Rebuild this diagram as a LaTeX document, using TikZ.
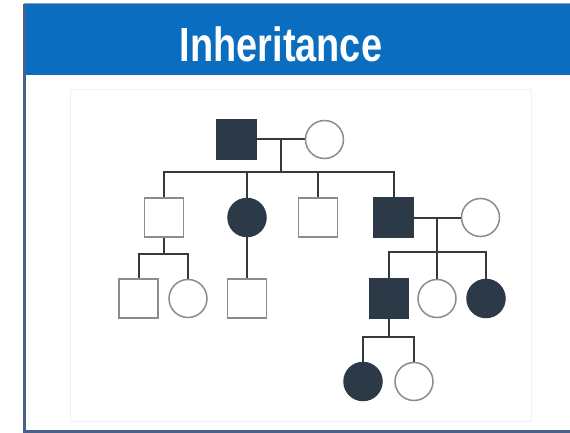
\documentclass[tikz,border=0pt]{standalone}
\usepackage{fontspec}
\usepackage{graphicx}
\setmainfont{Liberation Sans}
\definecolor{headblue}{HTML}{0A6DBF}
\definecolor{framecol}{HTML}{46618C}
\definecolor{affected}{HTML}{2C3A48}
\definecolor{linecol}{HTML}{333A40}
\definecolor{opencol}{HTML}{8C8C8C}
\tikzset{
  male/.style={rectangle, minimum size=39pt, inner sep=0pt, draw=opencol, line width=1.5pt, fill=white},
  female/.style={circle, minimum size=38pt, inner sep=0pt, draw=opencol, line width=1.5pt, fill=white},
  aff/.style={fill=affected, draw=affected},
  link/.style={draw=linecol, line width=2pt},
}
\begin{document}
\begin{tikzpicture}[x=1pt,y=-1pt]
\useasboundingbox (0,0) rectangle (570,433);
% frame and header band
\fill[white] (0,0) rectangle (570,433);
\fill[headblue] (24,4) rectangle (572,75);
\draw[framecol, line width=3pt] (24.5,4) -- (24.5,431) -- (575,431);
\draw[framecol!60, line width=1pt] (24,3.5) -- (575,3.5);
\node[text=white, font=\bfseries\fontsize{48}{48}\selectfont, anchor=base] (title) at (281,61.5) {\scalebox{0.79}[1]{Inheritance}};
% faint inner panel
\draw[black!6, line width=0.8pt] (70,89) rectangle (531,421);

% generation I
\node[male, aff] (m1) at (236.5,139.5) {};
\node[female] (f1) at (324.5,139.5) {};
% generation II
\node[male] (a2) at (164,217.5) {};
\node[female, aff] (b2) at (247,217.5) {};
\node[male] (c2) at (318,217.5) {};
\node[male, aff] (d2) at (393.5,217.5) {};
\node[female] (e2) at (480.5,217.5) {};
% generation III
\node[male] (a3) at (138.5,298.5) {};
\node[female] (b3) at (188,298.5) {};
\node[male] (c3) at (247,298.5) {};
\node[male, aff] (d3) at (389,298.5) {};
\node[female] (e3) at (437,298.5) {};
\node[female, aff] (f3) at (486,298.5) {};
% generation IV
\node[female, aff] (a4) at (363,381.5) {};
\node[female] (b4) at (414,381.5) {};

% junction points
\coordinate (u1) at (281,139.5);
\coordinate (s1) at (281,172);
\coordinate (s2) at (164,254);
\coordinate (u2) at (437,217.5);
\coordinate (s3) at (437,252);
\coordinate (s4) at (389,337);

% mating lines and sibships
\draw[link] (m1.east) -- (f1.west);
\draw[link] (u1) -- (s1);
\draw[link] (a2.north) |- (s1);
\draw[link] (b2.north) |- (s1);
\draw[link] (c2.north) |- (s1);
\draw[link] (d2.north) |- (s1);

\draw[link] (a2.south) -- (s2);
\draw[link] (a3.north) |- (s2);
\draw[link] (b3.north) |- (s2);
\draw[link] (b2.south) -- (c3.north);

\draw[link] (d2.east) -- (e2.west);
\draw[link] (u2) -- (s3);
\draw[link] (d3.north) |- (s3);
\draw[link] (e3.north) -- (s3);
\draw[link] (f3.north) |- (s3);

\draw[link] (d3.south) -- (s4);
\draw[link] (a4.north) |- (s4);
\draw[link] (b4.north) |- (s4);
\end{tikzpicture}
\end{document}
